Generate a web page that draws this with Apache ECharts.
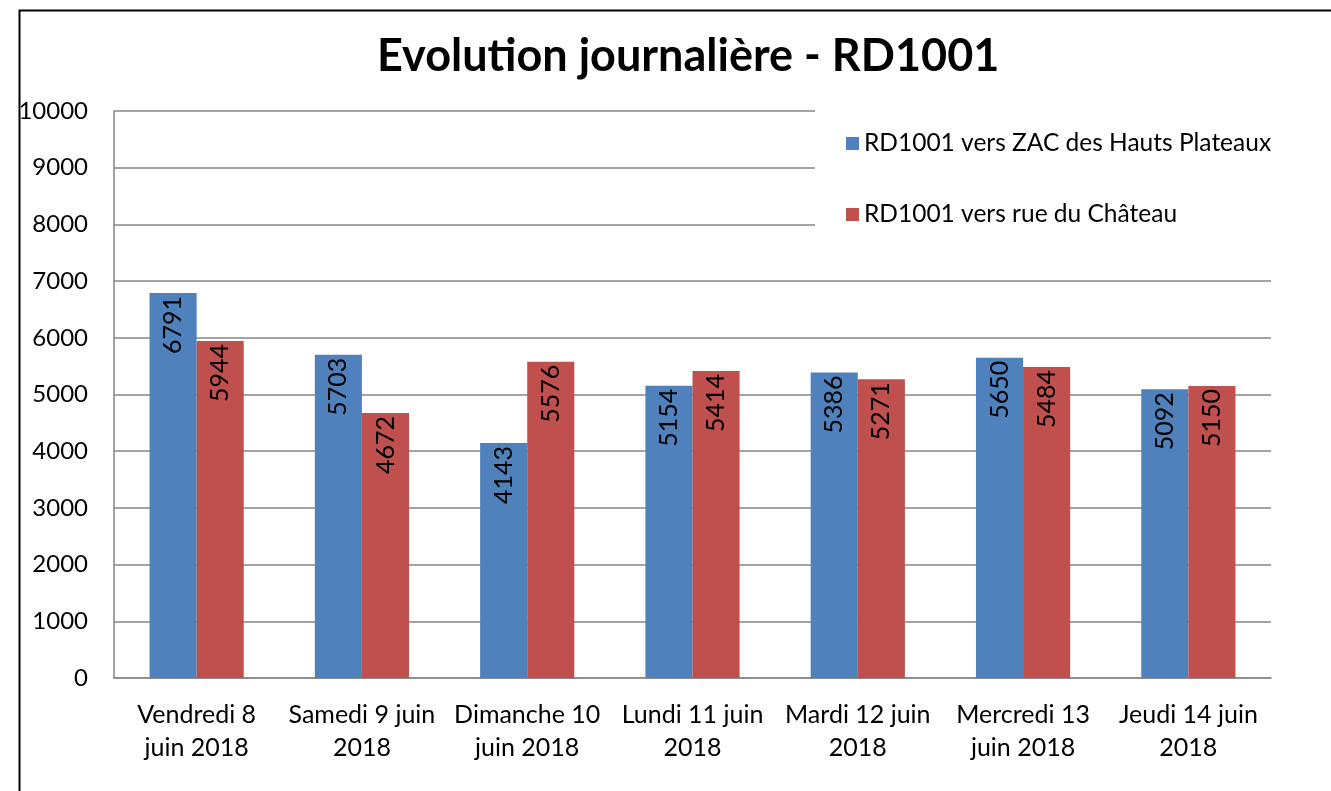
<!DOCTYPE html>
<html><head><meta charset="utf-8">
<script src="https://cdn.jsdelivr.net/npm/echarts@6/dist/echarts.min.js"></script>
<style>html,body{margin:0;padding:0;background:#fff}#c{width:1331px;height:791px}</style>
</head><body><div id="c"></div>
<script>
const title = 'Evolution journalière - RD1001';
const categories = ['Vendredi 8\njuin 2018','Samedi 9 juin\n2018','Dimanche 10\njuin 2018','Lundi 11 juin\n2018','Mardi 12 juin\n2018','Mercredi 13\njuin 2018','Jeudi 14 juin\n2018'];
const seriesNames = ['RD1001 vers ZAC des Hauts Plateaux','RD1001 vers rue du Château'];
const zacValues = [6791,5703,4143,5154,5386,5650,5092];
const chateauValues = [5944,4672,5576,5414,5271,5484,5150];
const colors = ['#4F81BD','#C0504D'];
const FONT = 'Lato';

const chart = echarts.init(document.getElementById('c'));
const lbl = {show:true, position:'insideTop', rotate:90, align:'right', verticalAlign:'middle', distance:3, color:'#000', fontSize:25, fontFamily:FONT};
chart.setOption({
  animation:false,
  textStyle:{fontFamily:FONT},
  graphic:[{type:'rect', left:17, top:8, shape:{width:1330, height:800}, style:{fill:'none', stroke:'#000', lineWidth:2}, z:-10}],
  title:{text:title, left:372, top:29, textStyle:{fontSize:45, fontWeight:'bold', color:'#000', fontFamily:FONT}},
  legend:{orient:'vertical', left:815, top:104, itemWidth:13, itemHeight:13, itemGap:46, padding:[27,14,30,31], backgroundColor:'#fff', z:5,
    textStyle:{fontSize:24.5, color:'#000', fontFamily:FONT}, data:seriesNames, icon:'rect'},
  grid:{left:114, right:60, top:111, bottom:113},
  xAxis:{type:'category', data:categories, axisLine:{lineStyle:{color:'#868686', width:1.5}}, axisTick:{show:false},
    axisLabel:{color:'#000', fontSize:25, lineHeight:33, margin:20, interval:0, fontFamily:FONT}},
  yAxis:{type:'value', min:0, max:10000, interval:1000, axisLine:{show:true, lineStyle:{color:'#868686', width:1.5}}, axisTick:{show:false},
    splitLine:{lineStyle:{color:'#868686', width:1.5}}, axisLabel:{color:'#000', fontSize:24, margin:26, fontFamily:FONT, formatter:v=>String(v)}},
  series:[
    {name:seriesNames[0], type:'bar', data:zacValues, itemStyle:{color:colors[0]}, barGap:'0%', barCategoryGap:'43%', label:lbl},
    {name:seriesNames[1], type:'bar', data:chateauValues, itemStyle:{color:colors[1]}, barGap:'0%', barCategoryGap:'43%', label:lbl}
  ]
});
</script></body></html>
